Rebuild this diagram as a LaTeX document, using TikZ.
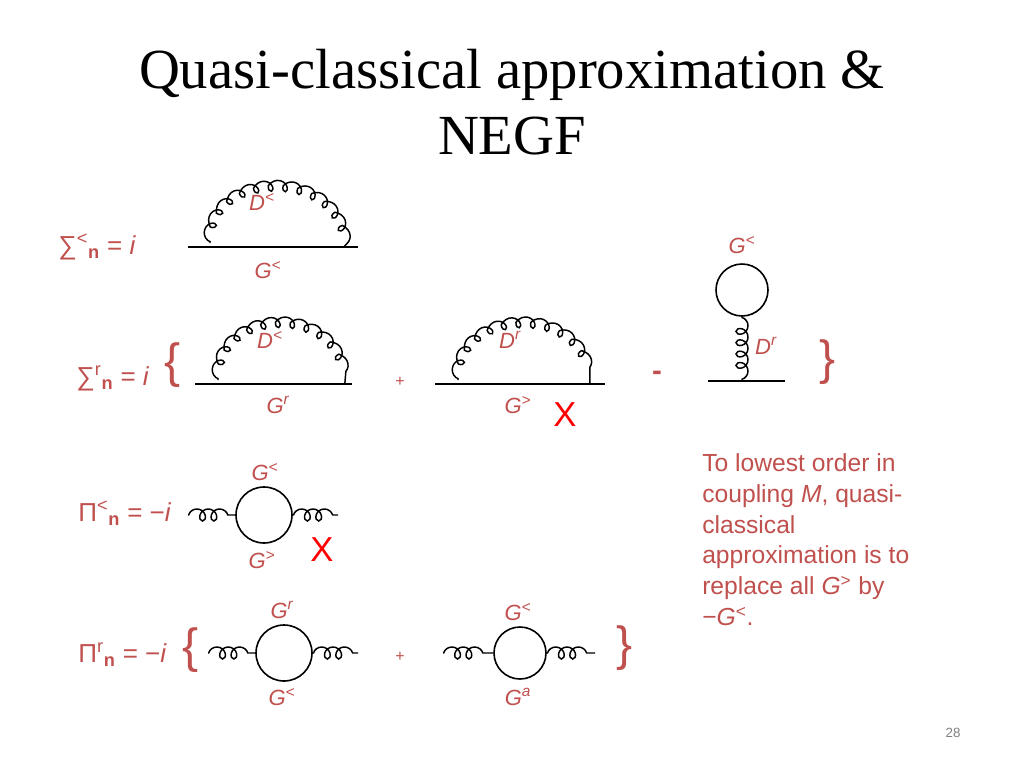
\documentclass[tikz,border=0pt]{standalone}
\usepackage{fontspec}
\setmainfont{Liberation Sans}
\newfontfamily\titlefont{Liberation Serif}
\usetikzlibrary{decorations.pathmorphing}
\definecolor{rd}{RGB}{192,80,77}
\tikzset{
  fl/.style={line width=1.2pt},
  gl/.style={line width=1.1pt,decorate,decoration={coil,aspect=0.9,amplitude=4.5,segment length=11pt,pre length=1pt,post length=1pt}},
  hgl/.style={line width=1.1pt,decorate,decoration={coil,aspect=0.9,amplitude=4.5,segment length=8.5pt,pre length=0.5pt,post length=0.5pt}},
  lb/.style={text=rd,font=\fontsize{16.5}{18}\selectfont\itshape,inner sep=0pt},
  eq/.style={text=rd,font=\fontsize{19.5}{22}\selectfont,inner sep=0pt,anchor=west},
  br/.style={text=rd,font=\fontsize{36}{38}\selectfont,inner sep=0pt},
  xx/.style={text=red,font=\fontsize{26}{28}\selectfont,inner sep=0pt},
}
\begin{document}
\begin{tikzpicture}[x=0.75pt,y=-0.75pt]
\useasboundingbox (0,0) rectangle (1024,768);
\node[font=\titlefont\fontsize{42.5}{49}\selectfont,align=center] (title) at (512,102) {Quasi-classical approximation \&\\NEGF};
% row 1
\node[eq] (e1) at (58,247) {∑\textsuperscript{<}\textbf{\textsubscript{n}} = \textit{i}};
\coordinate (a1) at (188,247); \coordinate (b1) at (358,247);
\draw[fl] (a1) -- (b1);
\coordinate (s1) at (210,243); \coordinate (t1) at (345,247);
\draw[gl] (s1) .. controls (210,170) and (340,165) .. (t1);
\node[lb] (d1) at (262,202) {D\textsuperscript{<}};
\node[lb] (g1) at (268,270) {G\textsuperscript{<}};
% row 2
\node[eq] (e2) at (76,378) {∑\textsuperscript{r}\textbf{\textsubscript{n}} = \textit{i}};
\node[br] (lb2) at (173,365) {\{};
\coordinate (a2) at (195,384); \coordinate (b2) at (352,384);
\draw[fl] (a2) -- (b2);
\draw[gl] (218,380) .. controls (218,308) and (340,300) .. (345,384);
\node[lb] (d2) at (270,340) {D\textsuperscript{<}};
\node[lb] (g2) at (278,405) {G\textsuperscript{r}};
\node[text=rd,font=\fontsize{12}{14}\selectfont] (p1) at (400,382) {+};
\coordinate (a3) at (435,384); \coordinate (b3) at (605,384);
\draw[fl] (a3) -- (b3);
\draw[gl] (458,380) .. controls (458,308) and (585,300) .. (590,384);
\node[lb] (d3) at (510,340) {D\textsuperscript{r}};
\node[lb] (g3) at (518,405) {G\textsuperscript{>}};
\node[xx] (x1) at (565,415) {X};
\node[text=rd,font=\fontsize{22}{22}\selectfont\bfseries] (m1) at (657,376) {-};
\node[draw,fl,circle,minimum size=52*0.75pt,inner sep=0pt] (c0) at (742,290) {};
\coordinate (v0) at (742,381);
\draw[hgl] (c0.south) -- (v0);
\draw[fl] (708,381) -- (785,381);
\node[lb] (g4) at (742,245) {G\textsuperscript{<}};
\node[lb] (d4) at (766,346) {D\textsuperscript{r}};
\node[br] (rb2) at (828,362) {\}};
% row 3
\node[eq] (e3) at (78,513) {Π\textsuperscript{<}\textbf{\textsubscript{n}} = −\textit{i}};
\node[draw,fl,circle,minimum size=56*0.75pt,inner sep=0pt] (c1) at (264,515) {};
\coordinate (l1) at (188,515); \coordinate (r1) at (338,515);
\draw[hgl] (l1) -- (c1.west);
\draw[hgl] (c1.east) -- (r1);
\node[lb] (g5) at (265,472) {G\textsuperscript{<}};
\node[lb] (g6) at (262,560) {G\textsuperscript{>}};
\node[xx] (x2) at (322,550) {X};
% row 4
\node[eq] (e4) at (78,655) {Π\textsuperscript{r}\textbf{\textsubscript{n}} = −\textit{i}};
\node[br] (lb4) at (191,650) {\{};
\node[draw,fl,circle,minimum size=56*0.75pt,inner sep=0pt] (c2) at (284,653) {};
\coordinate (l2) at (208,653); \coordinate (r2) at (358,653);
\draw[hgl] (l2) -- (c2.west);
\draw[hgl] (c2.east) -- (r2);
\node[lb] (g7) at (282,610) {G\textsuperscript{r}};
\node[lb] (g8) at (282,697) {G\textsuperscript{<}};
\node[text=rd,font=\fontsize{12}{14}\selectfont] (p2) at (400,657) {+};
\node[draw,fl,circle,minimum size=52*0.75pt,inner sep=0pt] (c3) at (520,653) {};
\coordinate (l3) at (443,653); \coordinate (r3) at (595,653);
\draw[hgl] (l3) -- (c3.west);
\draw[hgl] (c3.east) -- (r3);
\node[lb] (g9) at (518,612) {G\textsuperscript{<}};
\node[lb] (g10) at (518,697) {G\textsuperscript{a}};
\node[br] (rb4) at (625,648) {\}};
% text
\node[text=rd,font=\fontsize{18.5}{23.2}\selectfont,align=left,anchor=north west,inner sep=0pt] (txt) at (702,453)
 {To lowest order in\\coupling \textit{M}, quasi-\\classical\\approximation is to\\replace all \textit{G}\textsuperscript{>} by\\−\textit{G}\textsuperscript{<}.};
\node[text=gray,font=\fontsize{10}{12}\selectfont] (pg) at (953,733) {28};
\end{tikzpicture}
\end{document}
